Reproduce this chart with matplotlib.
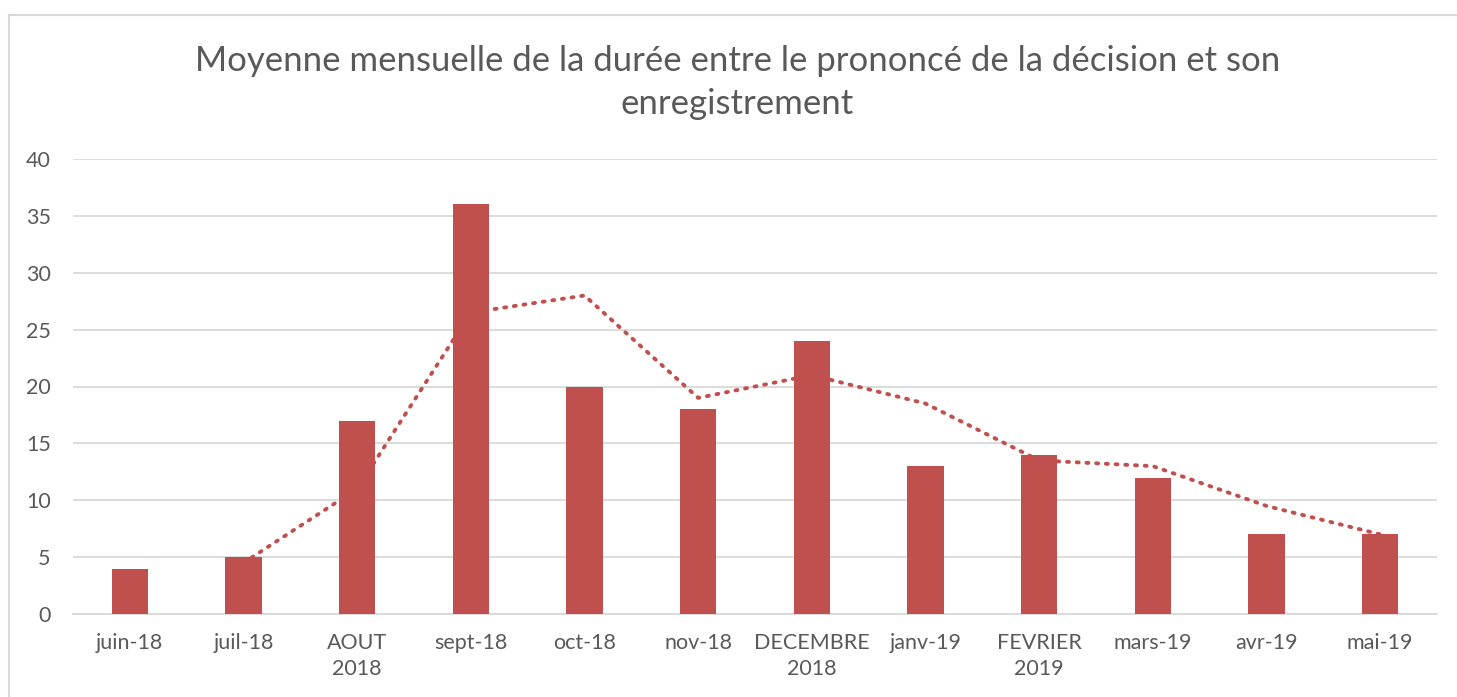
import matplotlib
matplotlib.use("Agg")
import matplotlib.pyplot as plt
from matplotlib.lines import Line2D
import numpy as np

# --- data ---
months = ["juin-18", "juil-18", "AOUT\n2018", "sept-18", "oct-18", "nov-18",
          "DECEMBRE\n2018", "janv-19", "FEVRIER\n2019", "mars-19", "avr-19", "mai-19"]
durations = [4, 5, 17, 36, 20, 18, 24, 13, 14, 12, 7, 7]
# dotted trend line (2-period moving average as drawn), starts at the 2nd month
trend = [None, 4.5, 11, 26.5, 28, 19, 21, 18.5, 13.5, 13, 9.5, 7]

BAR = "#c0504d"
TEXT = "#595959"
GRID = "#d9d9d9"

plt.rcParams["font.family"] = ["Lato", "DejaVu Sans"]

fig = plt.figure(figsize=(14.57, 6.97), dpi=100)
ax = fig.add_axes([73 / 1457, 1 - 614 / 697, (1437 - 73) / 1457, (614 - 159) / 697])

x = np.arange(len(months))
ax.bar(x, durations, width=0.32, color=BAR, zorder=3)

tx = [i for i, v in zip(x, trend) if v is not None]
ty = [v for v in trend if v is not None]
ax.plot(tx, ty, color=BAR, linewidth=2.8, linestyle=(0, (0.5, 2.0)),
        dash_capstyle="round", zorder=4)

ax.set_xlim(-0.5, len(months) - 0.5)
ax.set_ylim(0, 40)
ax.set_yticks(range(0, 41, 5))
ax.set_xticks(x)
ax.set_xticklabels(months, linespacing=1.35)
ax.yaxis.grid(True, color=GRID, linewidth=1.3)
ax.set_axisbelow(True)
for s in ["top", "right", "left"]:
    ax.spines[s].set_visible(False)
ax.spines["bottom"].set_color(GRID)
ax.spines["bottom"].set_linewidth(1.3)
ax.tick_params(length=0, colors=TEXT, labelsize=15.5)
ax.tick_params(axis="x", pad=14)
ax.tick_params(axis="y", pad=16)

fig.text(0.506, 1 - 61 / 697, "Moyenne mensuelle de la durée entre le prononcé de la décision et son",
         ha="center", va="center", fontsize=25, color=TEXT)
fig.text(0.506, 1 - 104 / 697, "enregistrement",
         ha="center", va="center", fontsize=25, color=TEXT)

# chart frame (top and left edges visible in the crop)
fig.add_artist(Line2D([9 / 1457, 1], [1 - 15 / 697, 1 - 15 / 697], color=GRID, linewidth=1.5))
fig.add_artist(Line2D([9 / 1457, 9 / 1457], [0, 1 - 15 / 697], color=GRID, linewidth=1.5))

fig.savefig("out.png", dpi=100, facecolor="white")
